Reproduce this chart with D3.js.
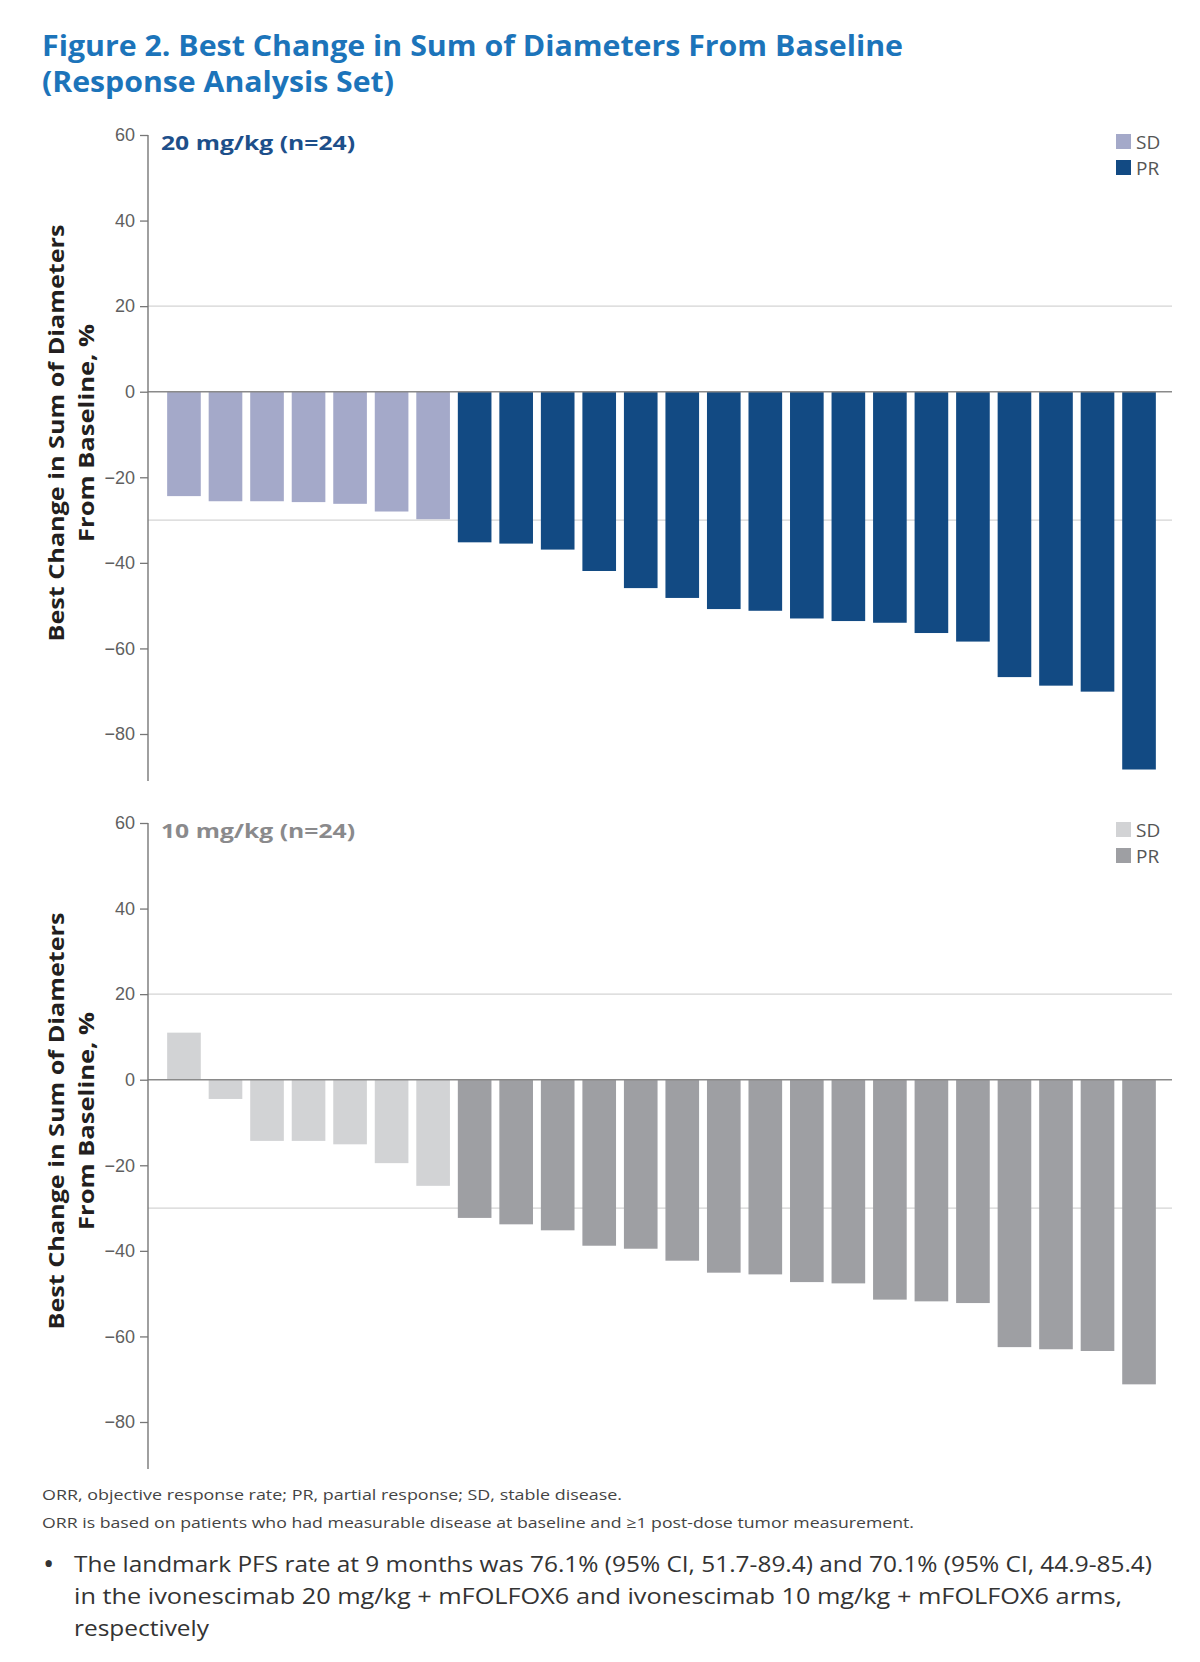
<!DOCTYPE html>
<html>
<head>
<meta charset="utf-8">
<script src="https://cdn.jsdelivr.net/npm/d3@7"></script>
<style>
    body { margin: 0; background: #fff; }
    svg { display: block; }
</style>
</head>
<body>
<div id="chart"></div>
<script>
(function() {
    // values, sorted as in the figure
    var highDoseChange = [-24.4, -25.6, -25.6, -25.8, -26.2, -28.0, -29.8, -35.2, -35.5, -36.9, -41.9, -45.9,
        -48.2, -50.8, -51.2, -53.0, -53.6, -54.0, -56.4, -58.4, -66.7, -68.7, -70.1, -88.3];
    var highDoseResponse = ["SD", "SD", "SD", "SD", "SD", "SD", "SD", "PR", "PR", "PR", "PR", "PR",
        "PR", "PR", "PR", "PR", "PR", "PR", "PR", "PR", "PR", "PR", "PR", "PR"];
    var lowDoseChange = [11.0, -4.5, -14.3, -14.3, -15.1, -19.5, -24.8, -32.3, -33.8, -35.2, -38.8, -39.5,
        -42.3, -45.1, -45.5, -47.3, -47.6, -51.4, -51.8, -52.2, -62.5, -63.0, -63.4, -71.2];
    var lowDoseResponse = ["SD", "SD", "SD", "SD", "SD", "SD", "SD", "PR", "PR", "PR", "PR", "PR",
        "PR", "PR", "PR", "PR", "PR", "PR", "PR", "PR", "PR", "PR", "PR", "PR"];
    var patients = ["1", "2", "3", "4", "5", "6", "7", "8", "9", "10", "11", "12",
        "13", "14", "15", "16", "17", "18", "19", "20", "21", "22", "23", "24"];
    var yTicks = [60, 40, 20, 0, -20, -40, -60, -80];
    var refLines = [20, -30];
    var legendKeys = ["SD", "PR"];

    var panels = [
        { label: "20 mg/kg (n=24)", labelColor: "#1d4f8a", values: highDoseChange, response: highDoseResponse,
          colors: { SD: "#a4a9c9", PR: "#124a83" }, offset: 0 },
        { label: "10 mg/kg (n=24)", labelColor: "#8a8a8c", values: lowDoseChange, response: lowDoseResponse,
          colors: { SD: "#d2d3d5", PR: "#9e9fa3" }, offset: 688 }
    ];

    var width = 1200, height = 1662;
    var axisX = 148, plotRight = 1172;

    var svg = d3.select("#chart")
        .append("svg")
        .attr("width", width)
        .attr("height", height);

    svg.append("rect")
        .attr("width", width)
        .attr("height", height)
        .attr("fill", "#fff");

    // title
    var title = svg.append("g")
        .attr("font-family", "'Open Sans', sans-serif")
        .attr("font-weight", 700)
        .attr("font-size", 28)
        .attr("fill", "#1c74ba");
    title.append("text")
        .attr("x", 42).attr("y", 56)
        .attr("textLength", 861).attr("lengthAdjust", "spacingAndGlyphs")
        .text("Figure 2. Best Change in Sum of Diameters From Baseline");
    title.append("text")
        .attr("x", 42).attr("y", 92)
        .attr("textLength", 352).attr("lengthAdjust", "spacingAndGlyphs")
        .text("(Response Analysis Set)");

    var x = d3.scaleBand()
        .domain(patients)
        .range([163, 1160])
        .paddingInner(0.19)
        .paddingOuter(0.1);

    var y = d3.scaleLinear()
        .domain([-80, 60])
        .range([734, 135]);

    function drawPanel(p) {
        var g = svg.append("g")
            .attr("transform", "translate(0," + p.offset + ")");

        // reference lines behind the bars
        g.selectAll(".ref")
            .data(refLines)
            .enter()
            .append("line")
            .attr("class", "ref")
            .attr("x1", axisX).attr("x2", plotRight)
            .attr("y1", function(d) { return y(d); })
            .attr("y2", function(d) { return y(d); })
            .attr("stroke", "#d4d4d4")
            .attr("stroke-width", 1.3);

        g.selectAll(".bar")
            .data(p.values)
            .enter()
            .append("rect")
            .attr("class", "bar")
            .attr("x", function(d, i) { return x(patients[i]); })
            .attr("width", x.bandwidth())
            .attr("y", function(d) { return y(Math.max(0, d)); })
            .attr("height", function(d) { return Math.abs(y(d) - y(0)); })
            .attr("fill", function(d, i) { return p.colors[p.response[i]]; });

        // zero line
        g.append("line")
            .attr("x1", axisX).attr("x2", plotRight)
            .attr("y1", y(0)).attr("y2", y(0))
            .attr("stroke", "#8a8a8a")
            .attr("stroke-width", 1.4);

        var axis = g.append("g")
            .attr("transform", "translate(" + axisX + ",0)")
            .call(d3.axisLeft(y).tickValues(yTicks).tickSize(8).tickSizeOuter(0).tickPadding(5));
        axis.select(".domain").remove();
        axis.selectAll(".tick line").attr("stroke", "#777").attr("stroke-width", 1.3);
        axis.selectAll(".tick text")
            .attr("fill", "#5f5f5f")
            .attr("font-family", "'Liberation Sans', Arial, sans-serif")
            .attr("font-size", 18);
        g.append("line")
            .attr("x1", axisX).attr("x2", axisX)
            .attr("y1", y(60)).attr("y2", y(-91))
            .attr("stroke", "#777")
            .attr("stroke-width", 1.4);

        // y axis title, two lines
        var yt = g.append("g")
            .attr("font-family", "'Open Sans', sans-serif")
            .attr("font-weight", 700)
            .attr("font-size", 22)
            .attr("fill", "#231f20")
            .attr("text-anchor", "middle");
        yt.append("text")
            .attr("transform", "translate(64,433) rotate(-90)")
            .attr("textLength", 417).attr("lengthAdjust", "spacingAndGlyphs")
            .text("Best Change in Sum of Diameters");
        yt.append("text")
            .attr("transform", "translate(94,433) rotate(-90)")
            .attr("textLength", 218).attr("lengthAdjust", "spacingAndGlyphs")
            .text("From Baseline, %");

        g.append("text")
            .attr("x", 161).attr("y", 150)
            .attr("font-family", "'Open Sans', sans-serif")
            .attr("font-weight", 700)
            .attr("font-size", 20)
            .attr("fill", p.labelColor)
            .attr("textLength", 194).attr("lengthAdjust", "spacingAndGlyphs")
            .text(p.label);

        // legend
        var legend = g.selectAll(".legend")
            .data(legendKeys)
            .enter()
            .append("g")
            .attr("class", "legend")
            .attr("transform", function(d, i) {
                return "translate(1116," + (134 + i * 26) + ")";
            });
        legend.append("rect")
            .attr("width", 15).attr("height", 15)
            .attr("fill", function(d) { return p.colors[d]; });
        legend.append("text")
            .attr("x", 20).attr("y", 15)
            .attr("font-family", "'Open Sans', sans-serif")
            .attr("font-size", 19)
            .attr("fill", "#555")
            .text(function(d) { return d; });
    }

    panels.forEach(drawPanel);

    // footnotes
    var notes = svg.append("g")
        .attr("font-family", "'Open Sans', sans-serif")
        .attr("font-size", 15)
        .attr("fill", "#444");
    notes.append("text")
        .attr("x", 42).attr("y", 1500)
        .attr("textLength", 580).attr("lengthAdjust", "spacingAndGlyphs")
        .text("ORR, objective response rate; PR, partial response; SD, stable disease.");
    notes.append("text")
        .attr("x", 42).attr("y", 1528)
        .attr("textLength", 872).attr("lengthAdjust", "spacingAndGlyphs")
        .text("ORR is based on patients who had measurable disease at baseline and \u22651 post-dose tumor measurement.");

    var bullet = svg.append("g")
        .attr("font-family", "'Open Sans', sans-serif")
        .attr("font-size", 22)
        .attr("fill", "#333");
    bullet.append("text")
        .attr("x", 43).attr("y", 1574)
        .attr("font-size", 30)
        .text("\u2022");
    var bulletLines = [
        ["The landmark PFS rate at 9 months was 76.1% (95% CI, 51.7-89.4) and 70.1% (95% CI, 44.9-85.4)", 1078],
        ["in the ivonescimab 20 mg/kg + mFOLFOX6 and ivonescimab 10 mg/kg + mFOLFOX6 arms,", 1048],
        ["respectively", 135]
    ];
    bullet.selectAll(".line")
        .data(bulletLines)
        .enter()
        .append("text")
        .attr("class", "line")
        .attr("x", 74)
        .attr("y", function(d, i) { return 1572 + i * 32; })
        .attr("textLength", function(d) { return d[1]; })
        .attr("lengthAdjust", "spacingAndGlyphs")
        .text(function(d) { return d[0]; });
})();
</script>
</body>
</html>
